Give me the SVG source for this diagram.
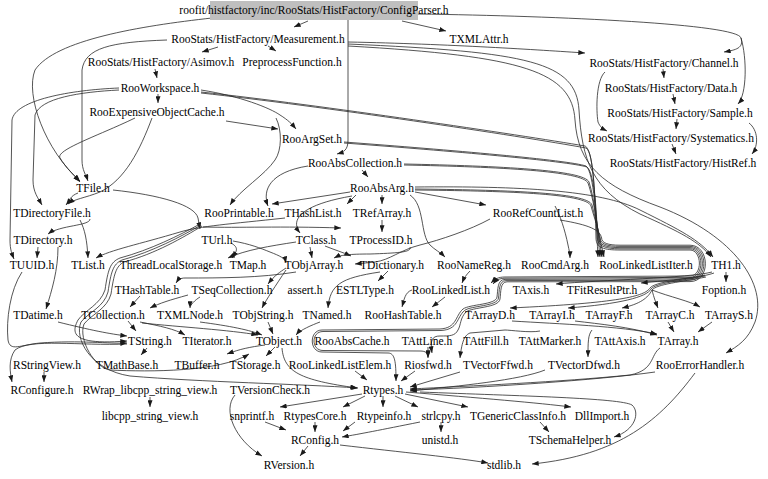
<svg xmlns="http://www.w3.org/2000/svg" width="768" height="479" viewBox="0 0 768 479">
<defs>
<marker id="ah" viewBox="0 0 8 6" refX="8" refY="3" markerWidth="7" markerHeight="5" markerUnits="userSpaceOnUse" orient="auto">
<path d="M0,0 L8,3 L0,6 z" fill="#1a1a1a"/>
</marker>
<style>
text{font-family:"Liberation Serif","Times New Roman","DejaVu Serif",serif;font-size:11.5px;fill:#000;text-anchor:middle}
.e path{fill:none;stroke:#2a2a2a;stroke-width:0.8;marker-end:url(#ah)}
</style>
</defs>
<rect width="768" height="479" fill="#fff"/>
<g class="e" id="edges">
<path d="M308,21 L294,27"/>
<path d="M402,21 L446,31"/>
<path d="M418,14 C560,16 738,24 741,38 C744,48 736,50 724,52"/>
<path d="M741,38 C747,58 747,94 738,104"/>
<path d="M212,18 C140,26 55,40 35,70 C25,95 45,150 80,181"/>
<path d="M348,20 L348,140 C348,150 344,152 337,154"/>
<path d="M218,47 L202,52"/>
<path d="M268,46 L276,51"/>
<path d="M348,42 C450,44 540,50 585,53"/>
<path d="M167,40 C110,42 85,48 82,70 L82,160 C82,170 86,175 88,181"/>
<path d="M348,44 C530,52 576,62 579,110 C582,160 592,190 640,214 C680,232 700,242 711,257"/>
<path d="M348,46 C525,56 572,72 575,120 C578,165 602,186 660,207 C735,236 768,285 755,322 C748,340 738,346 726,353"/>
<path d="M605,72 C596,80 596,110 598,122 C600,127 603,129 607,131"/>
<path d="M663,69 L664,78"/>
<path d="M673,94 L675,104"/>
<path d="M677,119 L676,129"/>
<path d="M672,144 L676,154"/>
<path d="M749,123 C758,130 759,145 752,154"/>
<path d="M155,69 L157,78"/>
<path d="M158,94 L158,103"/>
<path d="M226,121 L278,129"/>
<path d="M201,90 C240,96 270,108 280,115 C288,120 292,124 296,129"/>
<path d="M119,90 C80,92 40,98 35,115 L33,180 C33,192 38,198 42,205"/>
<path d="M119,88 C70,90 15,100 12,120 L10,240 C10,250 12,254 14,259"/>
<path d="M135,118 C100,135 55,150 60,158 C66,168 74,175 80,182"/>
<path d="M152,118 C140,150 125,180 100,192 C85,198 74,199 68,204"/>
<path d="M276,118 C282,130 282,150 275,160 C265,175 240,190 230,205"/>
<path d="M201,92 C320,105 520,135 585,146 C594,150 595,200 598,257"/>
<path d="M344,142 C450,150 568,160 586,166 C594,172 596,220 600,257"/>
<path d="M404,164 C500,166 584,170 589,182 C595,200 598,235 602,257"/>
<path d="M415,189 C500,190 588,192 592,205 C596,220 600,240 604,257"/>
<path d="M201,93 C320,106 520,136 586,148 C594,152 595,200 596,238 C596,248 604,250 620,250 L690,250 C702,250 703,276 690,276 L505,277 C498,277 495,279 491,283"/>
<path d="M344,143 C450,151 567,161 587,167 C595,173 597,220 597.4,238 C597.4,246 605,248.8 620,248.8 L690,248.8 C704,248.8 705,277.4 690,277.4 L505,278.2 C499,278.4 496,280.4 493,284"/>
<path d="M404,165 C500,167 583,171 588,183 C594,200 598,230 598.8,238 C598.8,245 606,247.6 620,247.6 L690,247.6 C706,247.6 707,278.8 690,278.8 L505,279.4 C497,279.6 498,290 497,297 C496,305 470,304 463,309 C455,316 457,328 440,329 L322,330 C309,330 309,352 322,352 L388,353 C395,353 396,362 396,381"/>
<path d="M415,190 C500,191 587,193 591,206 C595,220 599,232 600.2,238 C600.2,244 607,246.4 620,246.4 L690,246.4 C708,246.4 709,280.2 690,280.2 L506,280.6 C498.5,280.8 499.5,291 498.5,298 C497.5,306.5 471,305.5 464.5,310.5 C456.5,317.5 458.5,329.5 441,330.5 L323,331.5 C311,331.5 311,350.5 323,350.5 L420,351 C426,351 428,353 428,358"/>
<path d="M560,220 C590,225 600,230 601.6,238 C601.6,243 608,245.2 620,245.2 L690,245.2 C710,245.2 711,281.6 690,281.6 L507,281.8 C500,282 501,292 500,299 C499,308 472,307 466,312 C460,318 461,325 458,330 C455,336 450,336 440,336 C432,336 430,340 432,353"/>
<path d="M362,170 L368,177"/>
<path d="M350,192 L272,204"/>
<path d="M356,195 L347,204"/>
<path d="M382,195 L382,204"/>
<path d="M415,192 L486,205"/>
<path d="M410,195 C425,205 420,235 430,245 C435,250 440,252 445,257"/>
<path d="M415,187 C520,186 600,190 640,210 C680,230 700,240 713,257"/>
<path d="M352,196 C300,205 290,220 300,233"/>
<path d="M308,166 C270,172 262,190 268,206"/>
<path d="M382,220 L382,232"/>
<path d="M285,218 C230,224 200,226 180,232 C140,244 110,250 96,258"/>
<path d="M555,206 C560,215 565,230 568,245 C569,250 570,253 570,258"/>
<path d="M490,219 C470,230 440,240 420,245 C400,250 390,260 375,262 L355,264"/>
<path d="M78,193 C70,196 70,200 66,205"/>
<path d="M113,190 C160,195 195,205 198,218 L200,229"/>
<path d="M90,219 C90,226 60,225 48,234"/>
<path d="M80,220 C85,230 87,240 88,258"/>
<path d="M38,247 L37,258"/>
<path d="M58,247 C58,270 52,290 46,309"/>
<path d="M200,224 C180,235 150,250 120,258 C110,262 108,270 105,290 C100,305 85,310 78,320 C70,335 75,345 127,341"/>
<path d="M201,225 C182,236 152,252 122,260 C113,264 111,272 108,292 C104,307 89,312 81,322 C74,338 90,370 130,376 C200,382 300,384 358,388"/>
<path d="M202,226 C184,237 155,254 124,262 C116,266 114,274 111,294 C107,309 92,314 84,324 C78,340 95,368 110,370 C150,372 220,372 249,354"/>
<path d="M203,227 C240,228 280,226 341,228"/>
<path d="M233,241 C250,244 260,248 270,252 C280,256 285,258 286,263"/>
<path d="M231,243 C240,248 236,252 232,258"/>
<path d="M296,242 C270,246 245,250 228,258"/>
<path d="M310,247 L312,258"/>
<path d="M325,246 C335,250 342,252 351,256"/>
<path d="M410,247 C412,252 400,253 370,254 C350,254 340,255 334,258"/>
<path d="M388,271 L378,281"/>
<path d="M286,268 C280,272 275,275 268,284"/>
<path d="M286,270 C276,285 266,300 262,308"/>
<path d="M296,272 C260,278 220,278 185,278 C180,278 178,280 176,283"/>
<path d="M380,272 C340,278 330,285 328,308"/>
<path d="M470,271 C466,275 464,278 462,283"/>
<path d="M445,297 L432,307"/>
<path d="M412,290 C405,292 404,300 402,307"/>
<path d="M140,296 L130,307"/>
<path d="M188,295 C170,300 160,303 150,308"/>
<path d="M200,297 C195,300 190,305 190,308"/>
<path d="M726,272 L726,282"/>
<path d="M712,272 C690,278 600,280 556,284"/>
<path d="M714,273 C700,278 670,280 641,283"/>
<path d="M705,275 C680,280 655,282 650,288 C645,296 620,303 510,308"/>
<path d="M705,276 C680,281 656,283 651,289 C647,297 620,304 568,308"/>
<path d="M706,277 C681,282 657,284 652,290 C648,298 640,304 622,308"/>
<path d="M652,290 C654,298 656,303 658,308"/>
<path d="M652,290 C670,297 690,301 700,307"/>
<path d="M668,322 L674,332"/>
<path d="M712,322 L698,332"/>
<path d="M512,321 C560,324 620,326 657,334"/>
<path d="M575,321 C600,324 630,327 657,335"/>
<path d="M592,330 C588,335 588,342 588,357"/>
<path d="M540,331 C530,333 510,330 505,330 L470,333 C465,335 462,340 460,358"/>
<path d="M660,348 C650,355 655,370 630,375 C560,382 470,386 410,389"/>
<path d="M655,372 C600,380 480,388 410,390"/>
<path d="M545,370 C520,380 460,386 410,391"/>
<path d="M460,372 L410,387"/>
<path d="M415,371 L401,381"/>
<path d="M355,371 L367,380"/>
<path d="M282,348 C284,372 300,380 357,388"/>
<path d="M428,347 L428,357"/>
<path d="M275,347 L266,356"/>
<path d="M265,345 C250,347 240,349 227,354"/>
<path d="M128,321 L136,331"/>
<path d="M140,322 C160,326 175,329 185,335"/>
<path d="M142,323 C180,327 230,330 258,335"/>
<path d="M200,322 C230,326 250,330 262,335"/>
<path d="M268,322 L273,334"/>
<path d="M320,322 C312,325 300,330 296,335"/>
<path d="M58,322 C90,330 110,334 127,336"/>
<path d="M147,348 L141,355"/>
<path d="M127,344 C80,346 30,338 15,350 C8,360 10,372 12,382"/>
<path d="M22,272 C10,290 6,320 8,340 C10,352 20,345 40,343 C80,340 110,344 127,343"/>
<path d="M44,372 L44,382"/>
<path d="M150,397 L150,407"/>
<path d="M235,395 C222,410 235,440 262,456"/>
<path d="M362,394 L280,407"/>
<path d="M365,396 L343,407"/>
<path d="M383,396 L383,407"/>
<path d="M395,396 L418,407"/>
<path d="M405,394 L468,407"/>
<path d="M406,392 C480,398 540,403 571,407"/>
<path d="M420,392 C520,396 620,398 632,405 C640,412 636,430 614,437"/>
<path d="M265,422 L286,430"/>
<path d="M315,422 L315,432"/>
<path d="M355,422 L343,431"/>
<path d="M420,422 C380,430 360,434 342,437"/>
<path d="M441,422 L441,432"/>
<path d="M540,422 L549,432"/>
<path d="M308,446 L300,456"/>
<path d="M340,445 C400,452 460,458 488,463"/>
<path d="M695,373 C660,420 620,455 532,464"/>
</g>
<g id="n0"><rect x="210" y="1" width="208" height="19" fill="#bfbfbf"/><text x="314" y="14">roofit/histfactory/inc/RooStats/HistFactory/ConfigParser.h</text></g>
<g id="n1"><text x="258" y="43">RooStats/HistFactory/Measurement.h</text></g>
<g id="n2"><text x="479" y="43">TXMLAttr.h</text></g>
<g id="n3"><text x="161" y="66">RooStats/HistFactory/Asimov.h</text></g>
<g id="n4"><text x="292" y="66">PreprocessFunction.h</text></g>
<g id="n5"><text x="664" y="67">RooStats/HistFactory/Channel.h</text></g>
<g id="n6"><text x="160" y="92">RooWorkspace.h</text></g>
<g id="n7"><text x="671" y="92">RooStats/HistFactory/Data.h</text></g>
<g id="n8"><text x="157" y="116">RooExpensiveObjectCache.h</text></g>
<g id="n9"><text x="680" y="117">RooStats/HistFactory/Sample.h</text></g>
<g id="n10"><text x="312" y="143">RooArgSet.h</text></g>
<g id="n11"><text x="671" y="142">RooStats/HistFactory/Systematics.h</text></g>
<g id="n12"><text x="355" y="167">RooAbsCollection.h</text></g>
<g id="n13"><text x="683" y="167">RooStats/HistFactory/HistRef.h</text></g>
<g id="n14"><text x="93" y="192">TFile.h</text></g>
<g id="n15"><text x="382" y="192">RooAbsArg.h</text></g>
<g id="n16"><text x="52" y="217">TDirectoryFile.h</text></g>
<g id="n17"><text x="239" y="217">RooPrintable.h</text></g>
<g id="n18"><text x="313" y="217">THashList.h</text></g>
<g id="n19"><text x="382" y="217">TRefArray.h</text></g>
<g id="n20"><text x="538" y="217">RooRefCountList.h</text></g>
<g id="n21"><text x="43" y="244">TDirectory.h</text></g>
<g id="n22"><text x="217" y="244">TUrl.h</text></g>
<g id="n23"><text x="316" y="244">TClass.h</text></g>
<g id="n24"><text x="381" y="244">TProcessID.h</text></g>
<g id="n25"><text x="32" y="269">TUUID.h</text></g>
<g id="n26"><text x="88" y="269">TList.h</text></g>
<g id="n27"><text x="171" y="269">ThreadLocalStorage.h</text></g>
<g id="n28"><text x="248" y="269">TMap.h</text></g>
<g id="n29"><text x="314" y="269">TObjArray.h</text></g>
<g id="n30"><text x="392" y="269">TDictionary.h</text></g>
<g id="n31"><text x="474" y="269">RooNameReg.h</text></g>
<g id="n32"><text x="555" y="269">RooCmdArg.h</text></g>
<g id="n33"><text x="646" y="269">RooLinkedListIter.h</text></g>
<g id="n34"><text x="726" y="269">TH1.h</text></g>
<g id="n35"><text x="147" y="294">THashTable.h</text></g>
<g id="n36"><text x="232" y="294">TSeqCollection.h</text></g>
<g id="n37"><text x="305" y="294">assert.h</text></g>
<g id="n38"><text x="365" y="294">ESTLType.h</text></g>
<g id="n39"><text x="451" y="294">RooLinkedList.h</text></g>
<g id="n40"><text x="531" y="294">TAxis.h</text></g>
<g id="n41"><text x="602" y="294">TFitResultPtr.h</text></g>
<g id="n42"><text x="724" y="294">Foption.h</text></g>
<g id="n43"><text x="38" y="319">TDatime.h</text></g>
<g id="n44"><text x="113" y="319">TCollection.h</text></g>
<g id="n45"><text x="190" y="319">TXMLNode.h</text></g>
<g id="n46"><text x="263" y="319">TObjString.h</text></g>
<g id="n47"><text x="327" y="319">TNamed.h</text></g>
<g id="n48"><text x="403" y="319">RooHashTable.h</text></g>
<g id="n49"><text x="490" y="319">TArrayD.h</text></g>
<g id="n50"><text x="552" y="319">TArrayI.h</text></g>
<g id="n51"><text x="609" y="319">TArrayF.h</text></g>
<g id="n52"><text x="670" y="319">TArrayC.h</text></g>
<g id="n53"><text x="729" y="319">TArrayS.h</text></g>
<g id="n54"><text x="150" y="345">TString.h</text></g>
<g id="n55"><text x="207" y="345">TIterator.h</text></g>
<g id="n56"><text x="279" y="345">TObject.h</text></g>
<g id="n57"><text x="352" y="345">RooAbsCache.h</text></g>
<g id="n58"><text x="427" y="345">TAttLine.h</text></g>
<g id="n59"><text x="486" y="345">TAttFill.h</text></g>
<g id="n60"><text x="550" y="345">TAttMarker.h</text></g>
<g id="n61"><text x="620" y="345">TAttAxis.h</text></g>
<g id="n62"><text x="678" y="345">TArray.h</text></g>
<g id="n63"><text x="47" y="369">RStringView.h</text></g>
<g id="n64"><text x="127" y="369">TMathBase.h</text></g>
<g id="n65"><text x="197" y="369">TBuffer.h</text></g>
<g id="n66"><text x="255" y="369">TStorage.h</text></g>
<g id="n67"><text x="340" y="369">RooLinkedListElem.h</text></g>
<g id="n68"><text x="428" y="369">Riosfwd.h</text></g>
<g id="n69"><text x="498" y="369">TVectorFfwd.h</text></g>
<g id="n70"><text x="584" y="369">TVectorDfwd.h</text></g>
<g id="n71"><text x="700" y="369">RooErrorHandler.h</text></g>
<g id="n72"><text x="42" y="394">RConfigure.h</text></g>
<g id="n73"><text x="150" y="394">RWrap_libcpp_string_view.h</text></g>
<g id="n74"><text x="270" y="394">TVersionCheck.h</text></g>
<g id="n75"><text x="383" y="394">Rtypes.h</text></g>
<g id="n76"><text x="150" y="420">libcpp_string_view.h</text></g>
<g id="n77"><text x="252" y="420">snprintf.h</text></g>
<g id="n78"><text x="315" y="420">RtypesCore.h</text></g>
<g id="n79"><text x="384" y="420">Rtypeinfo.h</text></g>
<g id="n80"><text x="441" y="420">strlcpy.h</text></g>
<g id="n81"><text x="518" y="420">TGenericClassInfo.h</text></g>
<g id="n82"><text x="602" y="420">DllImport.h</text></g>
<g id="n83"><text x="315" y="444">RConfig.h</text></g>
<g id="n84"><text x="440" y="444">unistd.h</text></g>
<g id="n85"><text x="570" y="444">TSchemaHelper.h</text></g>
<g id="n86"><text x="289" y="469">RVersion.h</text></g>
<g id="n87"><text x="504" y="469">stdlib.h</text></g>
</svg>
